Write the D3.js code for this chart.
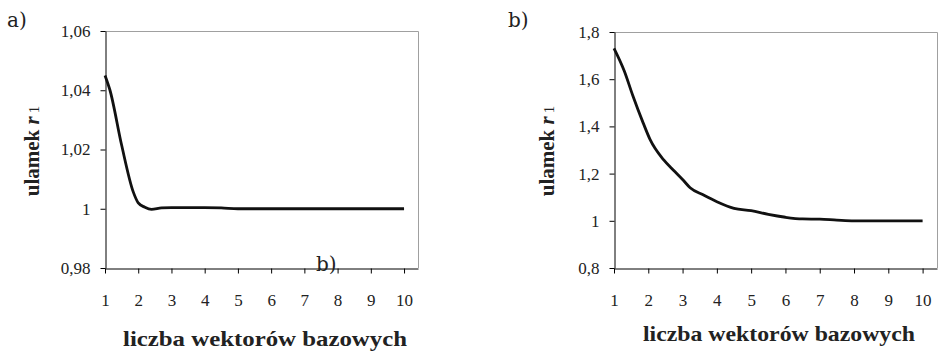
<!DOCTYPE html>
<html>
<head>
<meta charset="utf-8">
<script src="https://cdn.jsdelivr.net/npm/d3@7"></script>
<style>
  body { margin: 0; background: #fff; }
  svg { display: block; }
</style>
</head>
<body>
<div id="chart"></div>
<script>
// panel a
const xA = [1, 1.15, 1.5, 1.85, 2, 2.2, 2.4, 2.7, 3, 3.5, 4, 4.5, 5, 6, 7, 8, 9, 10];
const yA = [1.045, 1.040, 1.0215, 1.0057, 1.002, 1.0005, 0.9998, 1.0003, 1.0004, 1.0004, 1.0004, 1.0003, 1.0, 1.0, 1.0, 1.0, 1.0, 1.0];
const yTicksA = [0.98, 1, 1.02, 1.04, 1.06];

// panel b
const xB = [1, 1.3, 1.55, 1.85, 2.05, 2.45, 2.75, 3, 3.22, 3.6, 4, 4.5, 5, 5.5, 6, 6.5, 7, 7.5, 8, 9, 10];
const yB = [1.731, 1.635, 1.53, 1.415, 1.345, 1.258, 1.212, 1.175, 1.14, 1.11, 1.081, 1.053, 1.043, 1.027, 1.015, 1.008, 1.007, 1.003, 1.0, 1.0, 1.0];
const yTicksB = [0.8, 1, 1.2, 1.4, 1.6, 1.8];

const xTicks = [1, 2, 3, 4, 5, 6, 7, 8, 9, 10];
const xTitle = "liczba wektorów bazowych";
const yTitle = "ulamek ";

const SERIF = "Liberation Serif";
const W = 941, H = 354;
const svg = d3.select("#chart").append("svg")
  .attr("width", W)
  .attr("height", H);

const fmt = v => (v === 1 ? "1" : d3.format(",")(v).replace(".", ","));

function drawPanel(opts) {
  const { xs, ys, yTicks, box, yDomain, letter, xTitlePos, xTitleLen, yTitleX } = opts;
  const data = xs.map((x, i) => ({ x, y: ys[i] }));

  const x = d3.scaleLinear().domain([1, 10.42]).range([box.left, box.right]);
  const y = d3.scaleLinear().domain(yDomain).range([box.bottom, box.top]);

  // gray frame top & right
  svg.append("path")
    .attr("d", `M${box.left},${box.top + 0.5}H${box.right + 0.5}V${box.bottom}`)
    .attr("fill", "none")
    .attr("stroke", "#a0a0a0")
    .attr("stroke-width", 1);

  const gx = svg.append("g")
    .attr("transform", `translate(0,${box.bottom + 0.5})`)
    .call(d3.axisBottom(x).tickValues(xTicks).tickSize(5).tickPadding(20).tickSizeOuter(0));
  const gy = svg.append("g")
    .attr("transform", `translate(${box.left + 0.5},0)`)
    .call(d3.axisLeft(y).tickValues(yTicks).tickFormat(fmt).tickSize(5).tickPadding(10).tickSizeOuter(0));

  [gx, gy].forEach(g => {
    g.attr("font-family", SERIF).attr("font-size", 17);
    g.selectAll("path, line").attr("stroke", "#000");
    g.selectAll("text").attr("fill", "#222");
  });

  const line = d3.line()
    .x(d => x(d.x))
    .y(d => y(d.y))
    .curve(d3.curveMonotoneX);

  svg.append("path")
    .datum(data)
    .attr("fill", "none")
    .attr("stroke", "#111")
    .attr("stroke-width", 2.8)
    .attr("stroke-linejoin", "round")
    .attr("d", line);

  svg.append("text")
    .attr("x", xTitlePos[0])
    .attr("y", xTitlePos[1])
    .attr("textLength", xTitleLen)
    .attr("lengthAdjust", "spacingAndGlyphs")
    .attr("fill", "#222")
    .attr("font-family", SERIF)
    .attr("font-weight", "bold")
    .attr("font-size", 21)
    .text(xTitle);

  const yt = svg.append("text")
    .attr("transform", `translate(${yTitleX},151) rotate(-90)`)
    .attr("text-anchor", "middle")
    .attr("fill", "#222")
    .attr("font-family", SERIF)
    .attr("font-size", 21);
  yt.append("tspan").attr("font-weight", "bold").text(yTitle);
  yt.append("tspan").attr("font-weight", "bold").attr("font-style", "italic").text("r");
  yt.append("tspan").attr("dx", 3).attr("font-size", 15).text("1");

  svg.append("text")
    .attr("x", letter[1])
    .attr("y", letter[2])
    .attr("fill", "#222")
    .attr("font-family", "DejaVu Serif")
    .attr("font-size", 20)
    .text(letter[0]);
}

drawPanel({
  xs: xA, ys: yA, yTicks: yTicksA,
  box: { left: 105, right: 418, top: 31, bottom: 268 },
  yDomain: [0.98, 1.06],
  letter: ["a)", 7, 27],
  xTitlePos: [123, 346], xTitleLen: 284,
  yTitleX: 39
});

drawPanel({
  xs: xB, ys: yB, yTicks: yTicksB,
  box: { left: 614, right: 937, top: 32, bottom: 268 },
  yDomain: [0.8, 1.8],
  letter: ["b)", 508, 27],
  xTitlePos: [643, 341], xTitleLen: 272,
  yTitleX: 554
});

// stray label overlapping the left panel's axis
svg.append("text")
  .attr("x", 316)
  .attr("y", 271)
  .attr("fill", "#222")
  .attr("font-family", "DejaVu Serif")
  .attr("font-size", 20)
  .text("b)");
</script>
</body>
</html>
